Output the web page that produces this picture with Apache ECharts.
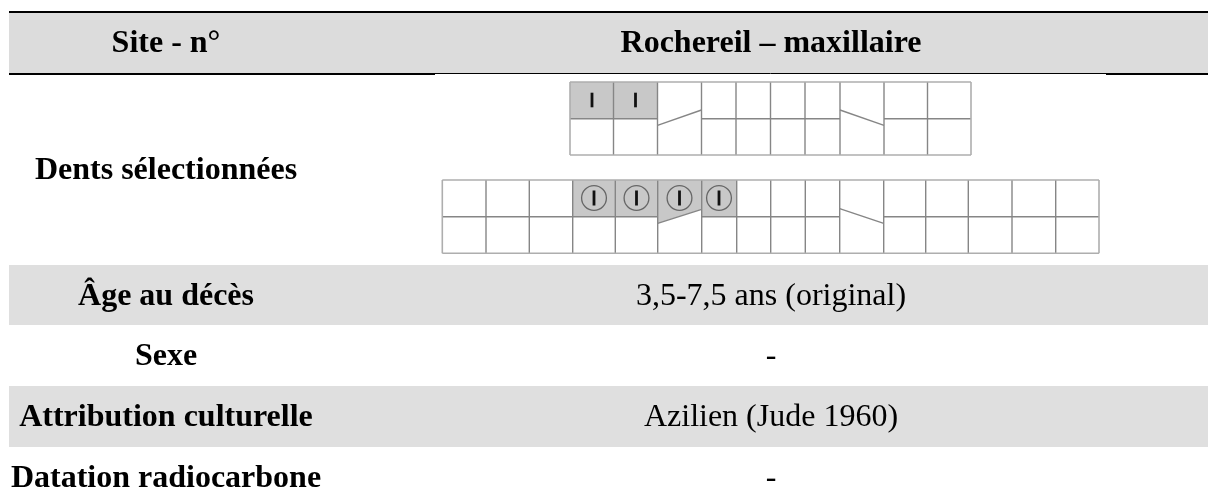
<!DOCTYPE html>
<html><head><meta charset="utf-8">
<style>html,body{margin:0;padding:0;background:#fff}#c{width:1208px;height:500px}</style>
<script src="https://cdn.jsdelivr.net/npm/echarts@6/dist/echarts.min.js"></script>
</head><body><div id="c"></div>
<script>
// table content
const rowLabels = ['Site - n°','Dents sélectionnées','Âge au décès','Sexe','Attribution culturelle','Datation radiocarbone'];
const rowValues = ['Rochereil – maxillaire','','3,5-7,5 ans (original)','-','Azilien (Jude 1960)','-'];
const rowBaselines = [52,179,305,365,426,487];
const shadedBands = [[13,73,'#dcdcdc'],[265,325,'#dfdfdf'],[386,447,'#dfdfdf']];
// dental diagram, tooth column edges on the horizontal scale
const upperEdges = [570,613.5,657.5,701.5,736,770.5,805,840,884,927.5,971];
const lowerEdges = [442.3,486,529.3,572.7,615.3,657.7,701.7,736.7,770.7,805.3,839.7,883.7,925.7,968.3,1012,1055.7,1099];
const upperLevels = [82,118.7,155];
const lowerLevels = [180,216.7,253.3];
const upperSlanted = {2:[125.3,110],7:[110,125.3]};
const lowerSlanted = {5:[223.3,209.3],10:[208.7,223.3]};
const upperPresent = [0,1];
const lowerPresent = [3,4,5,6];
const upperMarks = [592,635.5];
const lowerMarks = [594,636.5,679.5,719];

const GRID='#868686', EDGE='#aeaeae', FILL='#c8c8c8';
function line(api,x1,y1,x2,y2,stroke,w){
  const a=api.coord([x1,y1]),b=api.coord([x2,y2]);
  return {type:'line',shape:{x1:a[0],y1:a[1],x2:b[0],y2:b[1]},style:{stroke:stroke,lineWidth:w,fill:null}};
}
function poly(api,pts,fill){
  return {type:'polygon',shape:{points:pts.map(p=>api.coord(p))},style:{fill:fill}};
}
function diagram(api,edges,levels,slanted,present){
  const kids=[];
  const n=edges.length-1;
  present.forEach(i=>{
    const s=slanted[i]||[levels[1],levels[1]];
    kids.push(poly(api,[[edges[i],levels[0]],[edges[i+1],levels[0]],[edges[i+1],s[1]],[edges[i],s[0]]],FILL));
  });
  for(let i=0;i<n;i++){
    const s=slanted[i]||[levels[1],levels[1]];
    kids.push(line(api,edges[i],s[0],edges[i+1],s[1],GRID,1.4));
  }
  for(let i=0;i<=n;i++){
    const outer=(i===0||i===n);
    kids.push(line(api,edges[i],levels[0],edges[i],levels[2],outer?EDGE:GRID,outer?1.6:1.4));
  }
  kids.push(line(api,edges[0],levels[0],edges[n],levels[0],EDGE,1.5));
  kids.push(line(api,edges[0],levels[2],edges[n],levels[2],EDGE,1.5));
  return kids;
}
function textEl(api,x,y,t,bold){
  const p=api.coord([x,y]);
  return {type:'text',x:p[0],y:p[1]-24,style:{text:t,fill:'#000',
    font:(bold?'bold ':'')+'32px "Liberation Serif"',align:'center',verticalAlign:'top'}};
}
const option={
  animation:false,
  backgroundColor:'#fff',
  grid:{left:0,right:0,top:0,bottom:0},
  xAxis:{type:'value',min:0,max:1208,show:false},
  yAxis:{type:'value',min:0,max:500,inverse:true,show:false},
  series:[
    {type:'custom',silent:true,clip:false,coordinateSystem:'cartesian2d',data:[0],z:1,
     renderItem:(p,api)=>{
       const kids=shadedBands.map(b=>{
         const a=api.coord([9,b[0]]),c=api.coord([1208,b[1]]);
         return {type:'rect',shape:{x:a[0],y:a[1],width:c[0]-a[0],height:c[1]-a[1]},style:{fill:b[2]}};
       });
       kids.push(line(api,9,12,1208,12,'#000',2));
       kids.push(line(api,9,74,435,74,'#000',2));
       kids.push(line(api,435,73.5,1106,73.5,'#000',1));
       kids.push(line(api,1106,74,1208,74,'#000',2));
       return {type:'group',children:kids};
     }},
    {type:'custom',silent:true,clip:false,coordinateSystem:'cartesian2d',data:[0],z:2,
     renderItem:(p,api)=>{
       let kids=diagram(api,upperEdges,upperLevels,upperSlanted,upperPresent)
         .concat(diagram(api,lowerEdges,lowerLevels,lowerSlanted,lowerPresent));
       upperMarks.forEach(x=>kids.push(line(api,x,92.7,x,107.3,'#111',2.8)));
       lowerMarks.forEach(x=>{
         const c=api.coord([x,198]);
         kids.push({type:'circle',shape:{cx:c[0],cy:c[1],r:12.4},style:{fill:null,stroke:'#666',lineWidth:1.3}});
         kids.push(line(api,x,190.5,x,205.5,'#111',2.8));
       });
       return {type:'group',children:kids};
     }},
    {type:'custom',silent:true,clip:false,coordinateSystem:'cartesian2d',data:rowLabels.map((_,i)=>i),z:3,
     renderItem:(p,api)=>{
       const i=p.dataIndex, kids=[textEl(api,166,rowBaselines[i],rowLabels[i],true)];
       if(rowValues[i]) kids.push(textEl(api,771,rowBaselines[i],rowValues[i],i===0));
       return {type:'group',children:kids};
     }}
  ]
};
echarts.init(document.getElementById('c'),null,{renderer:'canvas'}).setOption(option);
</script></body></html>
